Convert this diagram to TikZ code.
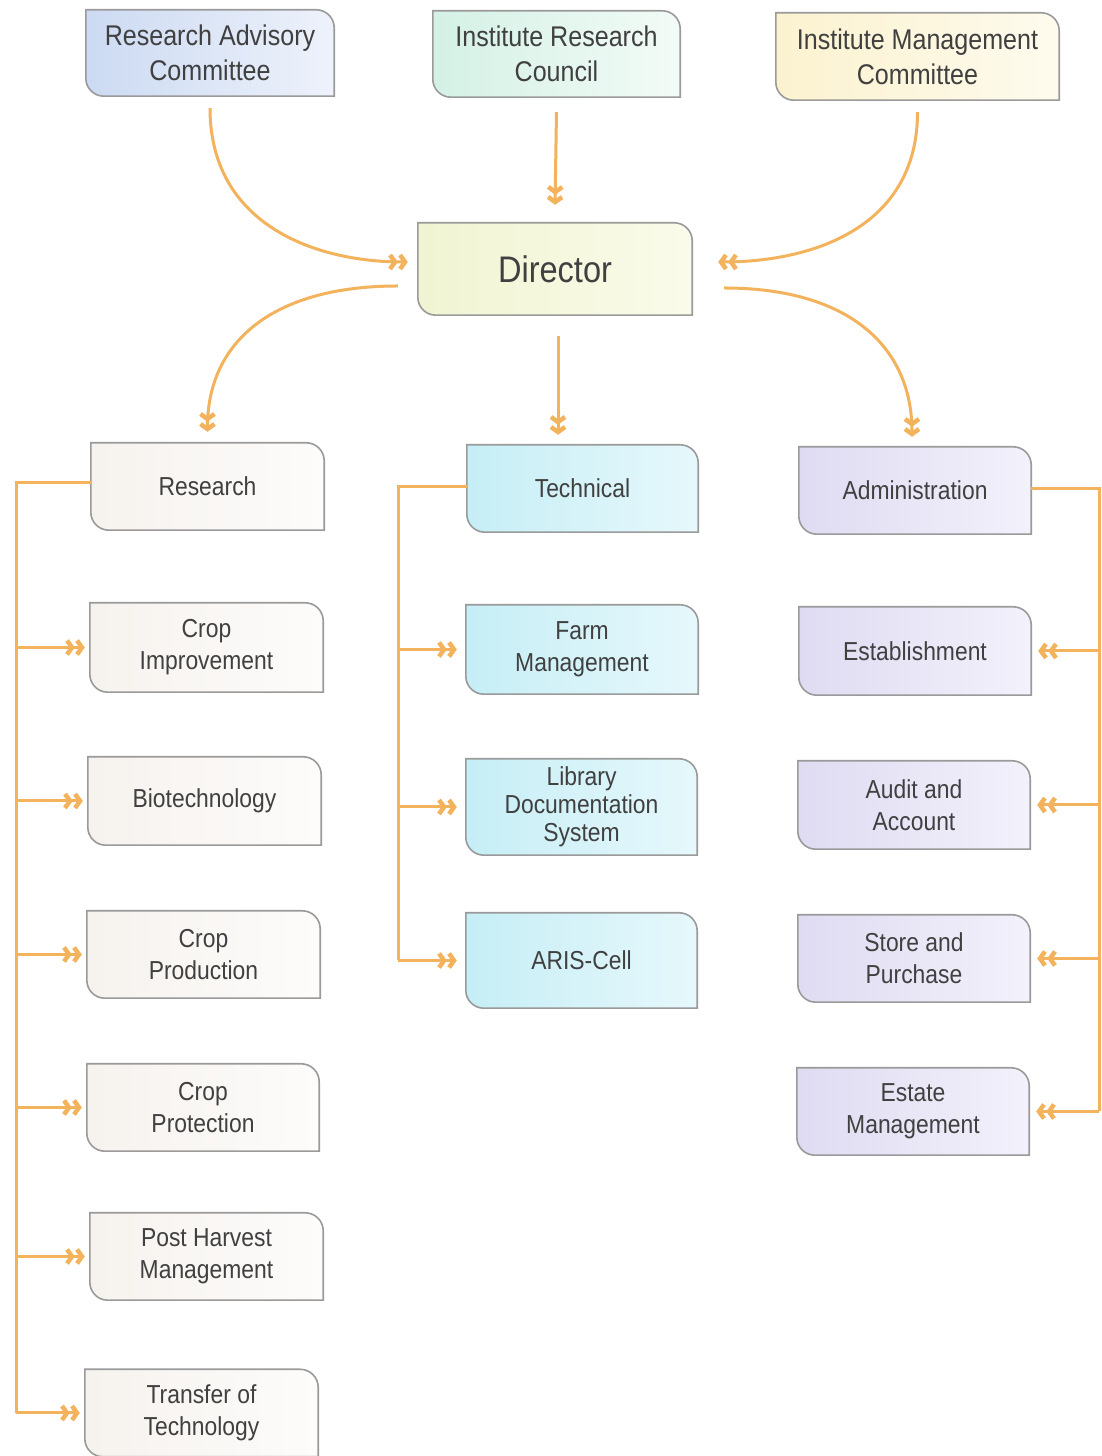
\documentclass[tikz,border=0pt]{standalone}
\usepackage{fontspec}
\setmainfont[FakeStretch=0.88]{Liberation Sans}
\usetikzlibrary{arrows.meta,backgrounds}
\definecolor{lineor}{HTML}{F3B25C}
\definecolor{bord}{HTML}{9A9A9A}
\definecolor{txt}{HTML}{404040}
\definecolor{racL}{HTML}{CCDAF2}\definecolor{racR}{HTML}{EEF2FB}
\definecolor{ircL}{HTML}{D4F1E6}\definecolor{ircR}{HTML}{F3FBF7}
\definecolor{imcL}{HTML}{FBF2CF}\definecolor{imcR}{HTML}{FEFBEE}
\definecolor{dirL}{HTML}{F1F4D2}\definecolor{dirR}{HTML}{FAFBEA}
\definecolor{resL}{HTML}{F6F2EE}\definecolor{resR}{HTML}{FDFCFB}
\definecolor{tecL}{HTML}{C6EEF6}\definecolor{tecR}{HTML}{E6F8FB}
\definecolor{admL}{HTML}{DFDBF2}\definecolor{admR}{HTML}{F3F1FB}
\tikzset{
  obox/.style={minimum width=233pt, minimum height=87pt, inner sep=0pt, align=center, text=txt,
    font=\fontsize{26}{32}\selectfont},
  topbox/.style={obox, font=\fontsize{28.5}{35}\selectfont},
  conn/.style={draw=lineor, line width=3pt},
  arr/.style={conn, -{Straight Barb[length=5pt,width=14pt,line width=4.5pt]Straight Barb[length=5pt,width=14pt,line width=4.5pt]}}
}
\begin{document}
\begin{tikzpicture}[x=1pt,y=1pt]
\useasboundingbox (0,0) rectangle (1101,1456);
% top row
\node[topbox, minimum width=248pt, minimum height=86pt] (rac) at (210,1403) {Research Advisory\\Committee};
\node[topbox, minimum width=247pt, minimum height=86pt] (irc) at (556.5,1402) {Institute Research\\Council};
\node[topbox, minimum width=283pt, minimum height=87pt] (imc) at (917.5,1399.5) {Institute Management\\Committee};
\node[obox, minimum width=274pt, minimum height=92pt, font=\fontsize{37}{40}\selectfont] (dir) at (555,1187) {Director};
% second row
\node[obox] (res) at (207.5,969.5) {Research};
\node[obox, minimum width=231pt] (tech) at (582.5,967.5) {Technical};
\node[obox, minimum width=232pt] (adm) at (915,965.5) {Administration};
% research column
\node[obox, minimum height=89pt] (ci) at (206.5,808.5) {Crop\\Improvement};
\node[obox, minimum height=88pt] (bio) at (204.5,655) {Biotechnology};
\node[obox] (cprod) at (203.5,501.5) {Crop\\Production};
\node[obox, minimum width=232pt] (cprot) at (203,348.5) {Crop\\Protection};
\node[obox] (ph) at (206.5,199.5) {Post Harvest\\Management};
\node[obox] (tot) at (201.5,43) {Transfer of\\Technology};
% technical column
\node[obox, minimum width=232pt, minimum height=89pt] (farm) at (582,806.5) {Farm\\Management};
\node[obox, minimum width=231pt, minimum height=96pt, font=\fontsize{26}{28}\selectfont] (lib) at (581.5,649) {Library\\Documentation\\System};
\node[obox, minimum width=231pt, minimum height=95pt] (aris) at (581.5,495.5) {ARIS-Cell};
% administration column
\node[obox, minimum width=232pt, minimum height=88pt] (est) at (915,805) {Establishment};
\node[obox, minimum width=232pt, minimum height=88pt] (aud) at (914,651) {Audit and\\Account};
\node[obox, minimum width=232pt] (store) at (914,497.5) {Store and\\Purchase};
\node[obox, minimum width=232pt] (estate) at (913,344.5) {Estate\\Management};

\begin{scope}[on background layer]
\foreach \n/\a/\b in {rac/racL/racR, irc/ircL/ircR, imc/imcL/imcR, dir/dirL/dirR,
  res/resL/resR, ci/resL/resR, bio/resL/resR, cprod/resL/resR, cprot/resL/resR, ph/resL/resR, tot/resL/resR,
  tech/tecL/tecR, farm/tecL/tecR, lib/tecL/tecR, aris/tecL/tecR,
  adm/admL/admR, est/admL/admR, aud/admL/admR, store/admL/admR, estate/admL/admR}{
  \path[draw=bord, line width=1.6pt, left color=\a, right color=\b]
    ([xshift=18pt]\n.south west) -- (\n.south east) -- ([yshift=-18pt]\n.north east)
    arc[start angle=0,end angle=90,radius=18pt] -- (\n.north west) -- ([yshift=18pt]\n.south west)
    arc[start angle=180,end angle=270,radius=18pt] -- cycle;
}
\end{scope}

% top connectors
\draw[arr] ([yshift=-12pt]rac.south) .. controls +(0,-115) and +(-95,0) .. ([xshift=-10pt,yshift=7pt]dir.west);
\draw[arr] ([yshift=-15pt]irc.south) -- ([yshift=18pt]dir.north);
\draw[arr] ([yshift=-12pt]imc.south) .. controls +(0,-115) and +(95,0) .. ([xshift=26pt,yshift=7pt]dir.east);
% director to departments
\draw[arr] ([xshift=-20pt,yshift=-17pt]dir.west) .. controls +(-125,0) and +(0,90) .. ([yshift=11pt]res.north);
\draw[arr] ([xshift=3pt,yshift=-21pt]dir.south) -- ([xshift=-24.5pt,yshift=10pt]tech.north);
\draw[arr] ([xshift=32pt,yshift=-19pt]dir.east) .. controls +(125,0) and +(0,90) .. ([xshift=-3pt,yshift=10pt]adm.north);

% research bus
\coordinate (rb) at (16,973);
\draw[conn] ([yshift=3.5pt]res.west) -- (rb) -- (rb |- tot.west);
\foreach \m in {ci,bio,cprod,cprot,ph,tot}
  \draw[arr] (rb |- \m.west) -- ([xshift=-5pt]\m.west);
% technical bus
\coordinate (tb) at (398,969);
\draw[conn] ([yshift=1.5pt]tech.west) -- (tb) -- (tb |- aris.west);
\foreach \m in {farm,lib,aris}
  \draw[arr] (tb |- \m.west) -- ([xshift=-9pt]\m.west);
% administration bus
\coordinate (ab) at (1099,967);
\draw[conn] ([yshift=1.5pt]adm.east) -- (ab) -- (ab |- estate.east);
\foreach \m in {est,aud,store,estate}
  \draw[arr] (ab |- \m.east) -- ([xshift=7pt]\m.east);
\end{tikzpicture}
\end{document}
